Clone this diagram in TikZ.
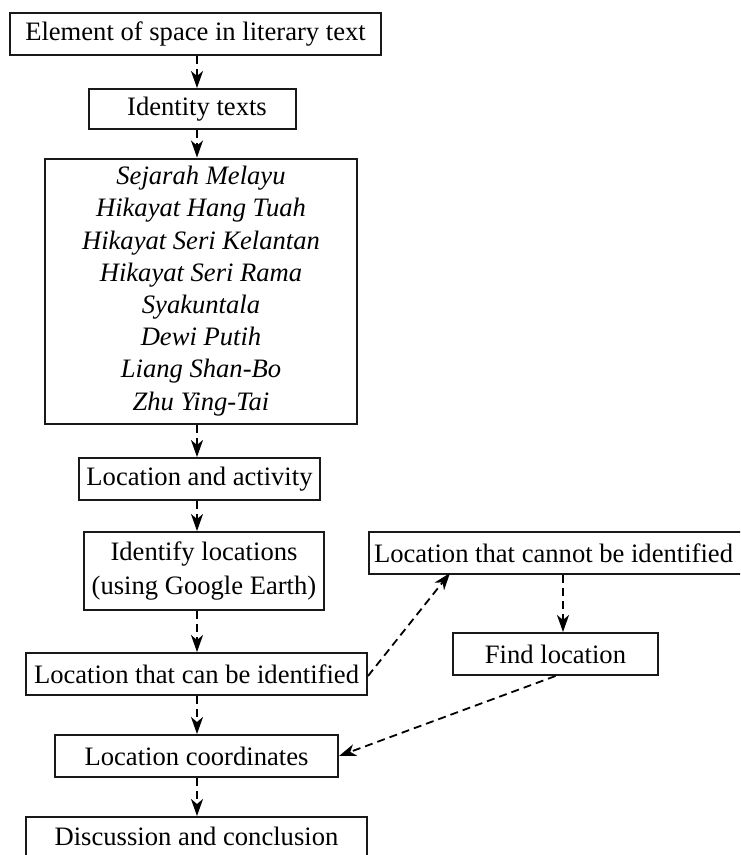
\documentclass[tikz,border=0pt]{standalone}
\usepackage{fontspec}
\setmainfont{Liberation Serif}
\usetikzlibrary{arrows.meta,calc}
\begin{document}
\begin{tikzpicture}[x=1pt,y=-1pt,
  box/.style={draw=black!90,line width=2pt,inner sep=0pt,align=center,font=\fontsize{26.6}{32}\selectfont},
  conn/.style={line width=1.8pt,dash pattern=on 8pt off 5pt,-{Stealth[length=17pt,width=12pt,inset=5pt]}}]
\useasboundingbox (0,0) rectangle (740,855);
\clip (0,0) rectangle (740,855);
\node[box,minimum width=371pt,minimum height=42pt] (top) at (195.5,34) {Element of space in literary text};
\node[box,minimum width=207pt,minimum height=40pt] (ident) at (192.5,109) {\hspace{9pt}Identity texts};
\node[box,minimum width=312pt,minimum height=265pt,font=\fontsize{26.6}{32.2}\selectfont\itshape] (texts) at (201,291)
  {Sejarah Melayu\\Hikayat Hang Tuah\\Hikayat Seri Kelantan\\Hikayat Seri Rama\\Syakuntala\\Dewi Putih\\Liang Shan-Bo\\Zhu Ying-Tai};
\node[box,minimum width=241pt,minimum height=42pt] (locact) at (199.5,479) {Location and activity};
\node[box,minimum width=240pt,minimum height=78pt,font=\fontsize{26.6}{34}\selectfont] (identify) at (204,571) {Identify locations\\(using Google Earth)};
\node[box,minimum width=373pt,minimum height=42pt] (cannot) at (555.5,553) {Location that cannot be identified\hspace{4pt}};
\node[box,minimum width=205pt,minimum height=42pt] (find) at (555.5,654) {Find location};
\node[box,minimum width=341pt,minimum height=42pt] (can) at (196.5,674) {Location that can be identified};
\node[box,minimum width=283pt,minimum height=42pt] (coords) at (196.5,756) {Location coordinates};
\node[box,minimum width=341pt,minimum height=44pt,anchor=north] (disc) at (196.5,816) {\raisebox{6pt}{Discussion and conclusion}};
\coordinate (col) at (197,0);
\coordinate (diag) at (450,0);
\coordinate (rcol) at (563,0);
\draw[conn] (top.south -| col) -- (ident.north -| col);
\draw[conn] (ident.south -| col) -- (texts.north -| col);
\draw[conn] (texts.south -| col) -- (locact.north -| col);
\draw[conn] (locact.south -| col) -- (identify.north -| col);
\draw[conn] (identify.south -| col) -- (can.north -| col);
\draw[conn] (can.south -| col) -- (coords.north -| col);
\draw[conn] (coords.south -| col) -- (disc.north -| col);
\draw[conn] ([yshift=-2pt]can.east) -- ([yshift=2pt]cannot.south -| diag);
\draw[conn] (cannot.south -| rcol) -- (find.north -| rcol);
\draw[conn] (find.south) -- (coords.east);
\end{tikzpicture}
\end{document}
